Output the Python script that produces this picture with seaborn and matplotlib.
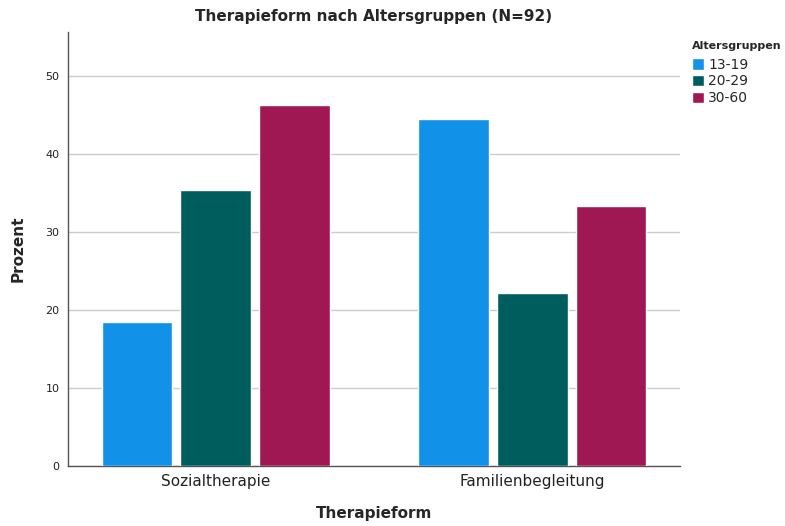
import matplotlib
matplotlib.use("Agg")
import matplotlib.pyplot as plt
import seaborn as sns
import pandas as pd

therapieform = ["Sozialtherapie", "Familienbegleitung"]
altersgruppen = ["13-19", "20-29", "30-60"]
prozent_sozial = [18.5, 35.4, 46.2]
prozent_familie = [44.4, 22.2, 33.3]
farben = ["#1192e8", "#005d5d", "#9f1853"]

rows = []
for g, v in zip(altersgruppen, prozent_sozial):
    rows.append((therapieform[0], g, v))
for g, v in zip(altersgruppen, prozent_familie):
    rows.append((therapieform[1], g, v))
df = pd.DataFrame(rows, columns=["Therapieform", "Altersgruppen", "Prozent"])

sns.set_style("white")
plt.rcParams["font.family"] = ["DejaVu Sans"]

fig = plt.figure(figsize=(7.85, 5.26), dpi=100)
ax = fig.add_axes([68 / 785, 60 / 526, 612 / 785, 434 / 526])

sns.barplot(data=df, x="Therapieform", y="Prozent", hue="Altersgruppen",
            palette=farben, saturation=1, width=0.746, gap=0.1, ax=ax,
            zorder=3)

ax.set_xlim(-0.467, 1.467)
ax.set_ylim(0, 55.6)
ax.set_yticks([0, 10, 20, 30, 40, 50])
ax.yaxis.grid(True, color="#cccccc", linewidth=1, zorder=0)
ax.set_axisbelow(True)
for s in ["top", "right"]:
    ax.spines[s].set_visible(False)
for s in ["left", "bottom"]:
    ax.spines[s].set_color("#555555")
    ax.spines[s].set_linewidth(1)
ax.tick_params(axis="y", labelsize=8, length=0, pad=6, colors="#222222")
ax.tick_params(axis="x", labelsize=11, length=0, pad=6, colors="#222222")

ax.set_title("Therapieform nach Altersgruppen (N=92)", fontsize=11,
             fontweight="bold", pad=8)
ax.set_xlabel("Therapieform", fontsize=11, fontweight="bold", labelpad=12)
ax.set_ylabel("Prozent", fontsize=11, fontweight="bold", labelpad=14)

leg = ax.legend(title="Altersgruppen", loc="upper left",
                bbox_to_anchor=(1.01, 0.993), frameon=False, fontsize=10,
                title_fontproperties={"weight": "bold", "size": 8},
                handlelength=0.9, handleheight=0.9, handletextpad=0.3,
                labelspacing=0.2, borderaxespad=0)
leg._legend_box.align = "left"
leg._legend_box.sep = 5

fig.savefig("out.png", dpi=100)
